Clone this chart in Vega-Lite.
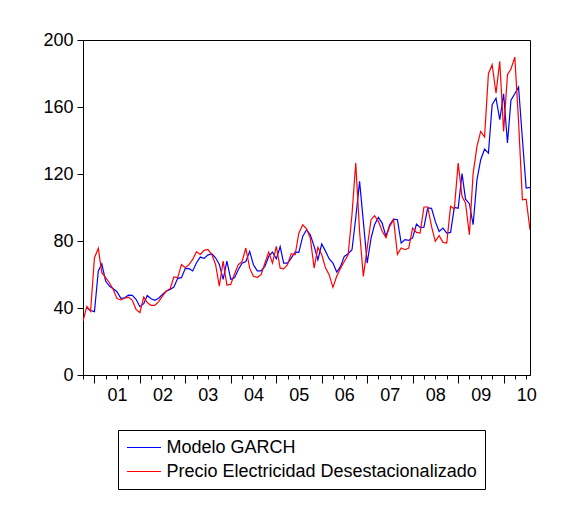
{
  "$schema": "https://vega.github.io/schema/vega-lite/v6.json",
  "width": 447,
  "height": 335,
  "autosize": "none",
  "padding": {"left": 83, "top": 40, "right": 51, "bottom": 134},
  "background": "white",
  "data": {
    "values": [
      {"fecha": "2000-10-01", "garch": null, "precio": 32.2},
      {"fecha": "2000-11-01", "garch": 40.0, "precio": 41.0},
      {"fecha": "2000-12-01", "garch": 38.5, "precio": 38.0},
      {"fecha": "2001-01-01", "garch": 37.8, "precio": 70.0},
      {"fecha": "2001-02-01", "garch": 62.1, "precio": 75.6},
      {"fecha": "2001-03-01", "garch": 66.4, "precio": 61.1},
      {"fecha": "2001-04-01", "garch": 56.1, "precio": 58.1},
      {"fecha": "2001-05-01", "garch": 53.1, "precio": 55.1},
      {"fecha": "2001-06-01", "garch": 51.5, "precio": 51.1},
      {"fecha": "2001-07-01", "garch": 49.7, "precio": 45.6},
      {"fecha": "2001-08-01", "garch": 45.8, "precio": 44.8},
      {"fecha": "2001-09-01", "garch": 46.1, "precio": 45.8},
      {"fecha": "2001-10-01", "garch": 47.7, "precio": 46.5},
      {"fecha": "2001-11-01", "garch": 47.5, "precio": 44.6},
      {"fecha": "2001-12-01", "garch": 45.2, "precio": 39.2},
      {"fecha": "2002-01-01", "garch": 40.8, "precio": 37.2},
      {"fecha": "2002-02-01", "garch": 42.6, "precio": 46.5},
      {"fecha": "2002-03-01", "garch": 47.5, "precio": 43.2},
      {"fecha": "2002-04-01", "garch": 45.5, "precio": 41.6},
      {"fecha": "2002-05-01", "garch": 44.6, "precio": 41.6},
      {"fecha": "2002-06-01", "garch": 45.8, "precio": 43.8},
      {"fecha": "2002-07-01", "garch": 48.1, "precio": 47.1},
      {"fecha": "2002-08-01", "garch": 50.1, "precio": 50.1},
      {"fecha": "2002-09-01", "garch": 51.1, "precio": 51.5},
      {"fecha": "2002-10-01", "garch": 52.5, "precio": 58.5},
      {"fecha": "2002-11-01", "garch": 57.7, "precio": 58.1},
      {"fecha": "2002-12-01", "garch": 58.1, "precio": 66.0},
      {"fecha": "2003-01-01", "garch": 63.7, "precio": 64.1},
      {"fecha": "2003-02-01", "garch": 63.5, "precio": 66.0},
      {"fecha": "2003-03-01", "garch": 62.1, "precio": 69.0},
      {"fecha": "2003-04-01", "garch": 67.0, "precio": 73.6},
      {"fecha": "2003-05-01", "garch": 70.4, "precio": 72.0},
      {"fecha": "2003-06-01", "garch": 69.6, "precio": 74.4},
      {"fecha": "2003-07-01", "garch": 71.6, "precio": 75.0},
      {"fecha": "2003-08-01", "garch": 72.4, "precio": 72.0},
      {"fecha": "2003-09-01", "garch": 70.0, "precio": 66.0},
      {"fecha": "2003-10-01", "garch": 66.0, "precio": 53.1},
      {"fecha": "2003-11-01", "garch": 57.1, "precio": 68.0},
      {"fecha": "2003-12-01", "garch": 68.0, "precio": 53.7},
      {"fecha": "2004-01-01", "garch": 57.1, "precio": 54.1},
      {"fecha": "2004-02-01", "garch": 58.2, "precio": 60.5},
      {"fecha": "2004-03-01", "garch": 62.8, "precio": 65.8},
      {"fecha": "2004-04-01", "garch": 66.8, "precio": 67.8},
      {"fecha": "2004-05-01", "garch": 67.8, "precio": 75.8},
      {"fecha": "2004-06-01", "garch": 73.8, "precio": 63.8},
      {"fecha": "2004-07-01", "garch": 65.8, "precio": 58.9},
      {"fecha": "2004-08-01", "garch": 62.2, "precio": 58.3},
      {"fecha": "2004-09-01", "garch": 62.2, "precio": 59.9},
      {"fecha": "2004-10-01", "garch": 64.8, "precio": 66.8},
      {"fecha": "2004-11-01", "garch": 70.8, "precio": 73.4},
      {"fecha": "2004-12-01", "garch": 73.4, "precio": 66.8},
      {"fecha": "2005-01-01", "garch": 69.4, "precio": 76.8},
      {"fecha": "2005-02-01", "garch": 76.6, "precio": 63.8},
      {"fecha": "2005-03-01", "garch": 66.8, "precio": 63.4},
      {"fecha": "2005-04-01", "garch": 66.8, "precio": 65.8},
      {"fecha": "2005-05-01", "garch": 69.8, "precio": 72.4},
      {"fecha": "2005-06-01", "garch": 73.4, "precio": 71.8},
      {"fecha": "2005-07-01", "garch": 73.2, "precio": 84.7},
      {"fecha": "2005-08-01", "garch": 82.7, "precio": 89.7},
      {"fecha": "2005-09-01", "garch": 86.7, "precio": 87.3},
      {"fecha": "2005-10-01", "garch": 83.7, "precio": 81.7},
      {"fecha": "2005-11-01", "garch": 76.8, "precio": 63.8},
      {"fecha": "2005-12-01", "garch": 68.8, "precio": 76.2},
      {"fecha": "2006-01-01", "garch": 78.2, "precio": 71.8},
      {"fecha": "2006-02-01", "garch": 73.8, "precio": 63.8},
      {"fecha": "2006-03-01", "garch": 69.4, "precio": 59.9},
      {"fecha": "2006-04-01", "garch": 66.8, "precio": 52.3},
      {"fecha": "2006-05-01", "garch": 61.5, "precio": 58.9},
      {"fecha": "2006-06-01", "garch": 64.8, "precio": 63.8},
      {"fecha": "2006-07-01", "garch": 70.8, "precio": 67.8},
      {"fecha": "2006-08-01", "garch": 72.4, "precio": 71.8},
      {"fecha": "2006-09-01", "garch": 74.8, "precio": 96.0},
      {"fecha": "2006-10-01", "garch": 93.7, "precio": 126.5},
      {"fecha": "2006-11-01", "garch": 115.6, "precio": 85.7},
      {"fecha": "2006-12-01", "garch": 91.7, "precio": 58.9},
      {"fecha": "2007-01-01", "garch": 66.8, "precio": 75.8},
      {"fecha": "2007-02-01", "garch": 81.7, "precio": 92.7},
      {"fecha": "2007-03-01", "garch": 89.7, "precio": 95.1},
      {"fecha": "2007-04-01", "garch": 94.1, "precio": 91.7},
      {"fecha": "2007-05-01", "garch": 90.7, "precio": 86.0},
      {"fecha": "2007-06-01", "garch": 82.7, "precio": 82.0},
      {"fecha": "2007-07-01", "garch": 89.7, "precio": 88.7},
      {"fecha": "2007-08-01", "garch": 93.1, "precio": 92.7},
      {"fecha": "2007-09-01", "garch": 92.7, "precio": 72.0},
      {"fecha": "2007-10-01", "garch": 78.8, "precio": 75.8},
      {"fecha": "2007-11-01", "garch": 80.8, "precio": 74.8},
      {"fecha": "2007-12-01", "garch": 80.4, "precio": 75.8},
      {"fecha": "2008-01-01", "garch": 81.8, "precio": 87.7},
      {"fecha": "2008-02-01", "garch": 90.1, "precio": 85.1},
      {"fecha": "2008-03-01", "garch": 88.1, "precio": 84.7},
      {"fecha": "2008-04-01", "garch": 88.3, "precio": 100.3},
      {"fecha": "2008-05-01", "garch": 99.7, "precio": 100.3},
      {"fecha": "2008-06-01", "garch": 99.5, "precio": 88.7},
      {"fecha": "2008-07-01", "garch": 91.7, "precio": 79.8},
      {"fecha": "2008-08-01", "garch": 85.7, "precio": 83.2},
      {"fecha": "2008-09-01", "garch": 87.7, "precio": 79.2},
      {"fecha": "2008-10-01", "garch": 84.7, "precio": 78.8},
      {"fecha": "2008-11-01", "garch": 85.1, "precio": 100.7},
      {"fecha": "2008-12-01", "garch": 100.1, "precio": 99.1},
      {"fecha": "2009-01-01", "garch": 99.5, "precio": 126.5},
      {"fecha": "2009-02-01", "garch": 120.2, "precio": 106.6},
      {"fecha": "2009-03-01", "garch": 105.0, "precio": 102.7},
      {"fecha": "2009-04-01", "garch": 102.3, "precio": 83.7},
      {"fecha": "2009-05-01", "garch": 89.7, "precio": 120.2},
      {"fecha": "2009-06-01", "garch": 116.6, "precio": 136.5},
      {"fecha": "2009-07-01", "garch": 128.5, "precio": 145.4},
      {"fecha": "2009-08-01", "garch": 134.9, "precio": 142.1},
      {"fecha": "2009-09-01", "garch": 132.5, "precio": 179.9},
      {"fecha": "2009-10-01", "garch": 161.4, "precio": 185.2},
      {"fecha": "2009-11-01", "garch": 165.3, "precio": 168.3},
      {"fecha": "2009-12-01", "garch": 152.4, "precio": 187.2},
      {"fecha": "2010-01-01", "garch": 167.9, "precio": 145.4},
      {"fecha": "2010-02-01", "garch": 138.5, "precio": 179.3},
      {"fecha": "2010-03-01", "garch": 164.0, "precio": 182.7},
      {"fecha": "2010-04-01", "garch": 167.9, "precio": 189.8},
      {"fecha": "2010-05-01", "garch": 171.9, "precio": 151.4},
      {"fecha": "2010-06-01", "garch": 140.9, "precio": 104.6},
      {"fecha": "2010-07-01", "garch": 111.6, "precio": 105.0},
      {"fecha": "2010-08-01", "garch": 112.0, "precio": 86.7}
    ]
  },
  "transform": [
    {"fold": ["garch", "precio"], "as": ["serie", "valor"]}
  ],
  "mark": {"type": "line", "strokeWidth": 1.2, "clip": true},
  "encoding": {
    "x": {
      "field": "fecha",
      "type": "temporal",
      "scale": {
        "type": "utc",
        "domain": [
          {"year": 2000, "month": 10, "date": 1, "utc": true},
          {"year": 2010, "month": 8, "date": 1, "utc": true}
        ]
      },
      "axis": {
        "title": null,
        "grid": false,
        "tickCount": {"interval": "month", "step": 3},
        "tickSize": {"condition": {"test": "utcmonth(datum.value) === 0", "value": 8}, "value": 4},
        "labelExpr": "utcmonth(datum.value) === 6 ? utcFormat(datum.value, '%y') : ''",
        "labelOverlap": false,
        "labelBound": false,
        "labelFlush": false,
        "labelPadding": 7
      }
    },
    "y": {
      "field": "valor",
      "type": "quantitative",
      "scale": {"domain": [0, 200], "nice": false},
      "axis": {
        "title": null,
        "grid": false,
        "values": [0, 40, 80, 120, 160, 200],
        "tickSize": 6,
        "labelPadding": 4
      }
    },
    "color": {
      "field": "serie",
      "type": "nominal",
      "scale": {"domain": ["garch", "precio"], "range": ["#0000ff", "#ff0000"]},
      "legend": {
        "title": null,
        "orient": "none",
        "legendX": 35,
        "legendY": 390,
        "direction": "vertical",
        "strokeColor": "black",
        "padding": 8,
        "symbolType": "M-2,0L2,0",
        "symbolSize": 289,
        "symbolStrokeWidth": 1.2,
        "symbolOffset": 8.5,
        "labelOffset": 13,
        "rowPadding": 5,
        "labelFontSize": 18,
        "labelLimit": 400,
        "labelExpr": "datum.value === 'garch' ? 'Modelo GARCH' : 'Precio Electricidad Desestacionalizado'"
      }
    },
    "order": {"field": "fecha", "type": "temporal"}
  },
  "config": {
    "font": "Liberation Sans",
    "view": {"stroke": "black", "strokeWidth": 1},
    "axis": {
      "domainColor": "black",
      "tickColor": "black",
      "labelColor": "black",
      "labelFontSize": 18,
      "labelFont": "Liberation Sans"
    },
    "legend": {
      "labelFont": "Liberation Sans",
      "labelColor": "black"
    }
  }
}
